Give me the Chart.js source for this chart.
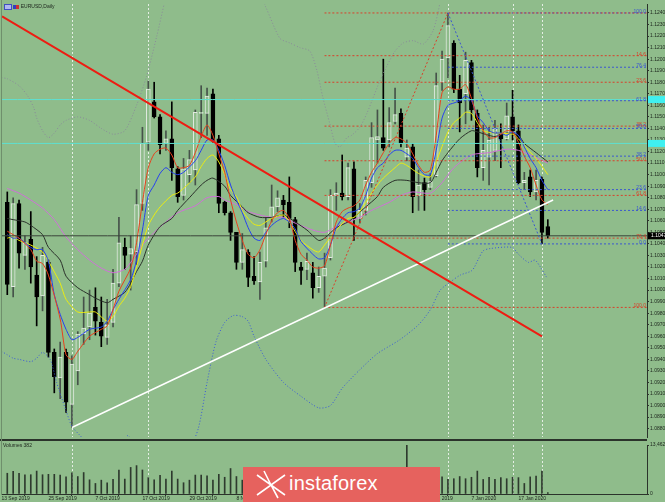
<!DOCTYPE html>
<html lang="en">
<head>
<meta charset="UTF-8" />
<title>EURUSD,Daily</title>
<script src="https://cdn.jsdelivr.net/npm/chart.js@4.4.1/dist/chart.umd.min.js"></script>
<style>
  body { margin: 0; background: #8fbc8b; }
  #wrap { position: relative; width: 665px; height: 502px; overflow: hidden; background: #8fbc8b; font-family: "Liberation Sans", Arial, sans-serif; }
  canvas { position: absolute; left: 0; }
  #priceChart { top: 0; }
  #volChart { top: 441px; }
  .txt { position: absolute; font-size: 5px; color: #1c241c; white-space: nowrap; }
  #sep { position: absolute; left: 0; top: 439px; width: 647px; height: 2px; background: #2b332b; }
  #frameL { position: absolute; left: 1px; top: 0; width: 1px; height: 495px; background: #6f8f6c; }
  #logo { position: absolute; left: 243px; top: 467px; width: 197px; height: 35px; background: #e6625e; }
  #logo .name { position: absolute; left: 46px; top: 5px; font: 20px "Liberation Sans", Arial, sans-serif; color: #fff; letter-spacing: 0.2px; }
</style>
</head>
<body>
<div id="wrap">
  <canvas id="priceChart" width="665" height="441"></canvas>
  <canvas id="volChart" width="665" height="61"></canvas>
  <div id="sep"></div>
  <div id="frameL"></div>
  <div class="txt" style="left:4px; top:3px;">
    <span style="display:inline-block;width:6px;height:4px;border:1px solid #4050c0;background:#b0b8f0;vertical-align:middle;"></span>
    <span style="display:inline-block;width:6px;height:4px;background:linear-gradient(90deg,#3040c0 50%,#d03030 50%);vertical-align:middle;"></span>
    EURUSD,Daily
  </div>
  <div class="txt" style="left:3px; top:442px;">Volumes 382</div>
  <div id="logo">
    <svg width="40" height="35" style="position:absolute;left:8px;top:0;">
      <path d="M6 8 L20 18 L34 8 M6 28 L20 18 L34 28 M13 4 L20 18 L27 31" stroke="#fff" stroke-width="1.6" fill="none"/>
    </svg>
    <div class="name">instaforex</div>
  </div>
</div>

<script>
  // ---------- data ----------
  const tickIdx = [-1, 7, 15, 23, 31, 39, 47, 55, 63, 71, 79, 87];
  const tickLabels = ['13 Sep 2019', '25 Sep 2019', '7 Oct 2019', '17 Oct 2019', '29 Oct 2019', '8 Nov 2019',
    '20 Nov 2019', '2 Dec 2019', '12 Dec 2019', '24 Dec 2019', '7 Jan 2020', '17 Jan 2020'];

  const priceTicks = [1.0880, 1.0890, 1.0900, 1.0910, 1.0920, 1.0930, 1.0940, 1.0950, 1.0960, 1.0970,
    1.0980, 1.0990, 1.1000, 1.1010, 1.1020, 1.1030, 1.1040, 1.1050, 1.1060, 1.1070,
    1.1080, 1.1090, 1.1100, 1.1110, 1.1120, 1.1130, 1.1140, 1.1150, 1.1160, 1.1170,
    1.1180, 1.1190, 1.1200, 1.1210, 1.1220, 1.1230, 1.1240];

  const opens = [1.1076, 1.1003, 1.1075, 1.1030, 1.1044, 1.1013, 1.0995, 1.1024, 1.0946, 1.0924,
    1.0946, 1.0901, 1.0930, 1.0962, 1.0968, 1.0985, 1.0972, 1.0959, 1.0972, 1.1006,
    1.1037, 1.1031, 1.1033, 1.1075, 1.1128, 1.1163, 1.1150, 1.1127, 1.1131, 1.1105,
    1.1082, 1.1100, 1.1104, 1.1153, 1.1153, 1.1170, 1.1131, 1.1076, 1.1067, 1.1050,
    1.1024, 1.1033, 1.1012, 1.1007, 1.1025, 1.1063, 1.1072, 1.1078, 1.1076, 1.1061,
    1.1020, 1.1018, 1.1015, 1.1002, 1.1012, 1.1028, 1.1082, 1.1084, 1.1081, 1.1105,
    1.1062, 1.1069, 1.1093, 1.1130, 1.1132, 1.1130, 1.1146, 1.1153, 1.1115, 1.1124,
    1.1082, 1.1093, 1.1089, 1.1099, 1.1180, 1.1201, 1.1214, 1.1174, 1.1170, 1.1197,
    1.1153, 1.1106, 1.1115, 1.1121, 1.1136, 1.1131, 1.1150, 1.1138, 1.1093, 1.1098,
    1.1085, 1.1096, 1.1055];
  const highs = [1.1085, 1.1080, 1.1078, 1.1047, 1.1068, 1.1029, 1.1037, 1.1026, 1.0949, 1.0955,
    1.0949, 1.0943, 1.0964, 1.0994, 1.1000, 1.1002, 1.0994, 1.0992, 1.1018, 1.1063,
    1.1045, 1.1047, 1.1087, 1.1141, 1.1181, 1.1180, 1.1152, 1.1138, 1.1163, 1.1107,
    1.1114, 1.1121, 1.1156, 1.1177, 1.1175, 1.1174, 1.1134, 1.1077, 1.1068, 1.1050,
    1.1049, 1.1035, 1.1029, 1.1033, 1.1063, 1.1091, 1.1086, 1.1082, 1.1098, 1.1063,
    1.1024, 1.1032, 1.1024, 1.1020, 1.1032, 1.1087, 1.1093, 1.1117, 1.1110, 1.1111,
    1.1075, 1.1098, 1.1145, 1.1156, 1.1200, 1.1158, 1.1175, 1.1157, 1.1130, 1.1127,
    1.1104, 1.1097, 1.1101, 1.1188, 1.1207, 1.1240, 1.1216, 1.1186, 1.1206, 1.1199,
    1.1156, 1.1143, 1.1141, 1.1147, 1.1144, 1.1162, 1.1173, 1.1143, 1.1102, 1.1104,
    1.1104, 1.1098, 1.1061];
  const lows = [1.0996, 1.0994, 1.1019, 1.1018, 1.1006, 1.0969, 1.0982, 1.0942, 1.0911, 1.0906,
    1.0894, 1.0881, 1.0918, 1.0953, 1.0957, 1.0961, 1.0951, 1.0953, 1.0968, 1.1003,
    1.1018, 1.1000, 1.1022, 1.1069, 1.1121, 1.1149, 1.1118, 1.1121, 1.1095, 1.1076,
    1.1078, 1.1093, 1.1091, 1.1132, 1.1134, 1.1128, 1.1067, 1.1065, 1.1043, 1.1018,
    1.1018, 1.1003, 1.1005, 1.0992, 1.1020, 1.1059, 1.1068, 1.1063, 1.1054, 1.1016,
    1.1005, 1.1009, 1.0993, 1.0998, 1.0985, 1.1026, 1.1069, 1.1078, 1.1078, 1.1043,
    1.1058, 1.1065, 1.1089, 1.1110, 1.1121, 1.1124, 1.1144, 1.1124, 1.1112, 1.1067,
    1.1069, 1.1069, 1.1087, 1.1098, 1.1173, 1.1184, 1.1171, 1.1137, 1.1144, 1.1147,
    1.1098, 1.1095, 1.1091, 1.1112, 1.1106, 1.1130, 1.1130, 1.1092, 1.1087, 1.1081,
    1.1078, 1.1040, 1.1045];
  const closes = [1.1005, 1.1075, 1.1032, 1.1041, 1.1020, 1.0994, 1.1030, 1.0946, 1.0925, 1.0942,
    1.0903, 1.0936, 1.0962, 1.0967, 1.0980, 1.0973, 1.0960, 1.0970, 1.1006, 1.1041,
    1.1030, 1.1036, 1.1074, 1.1127, 1.1174, 1.1150, 1.1126, 1.1131, 1.1106, 1.1081,
    1.1105, 1.1113, 1.1154, 1.1154, 1.1168, 1.1129, 1.1075, 1.1067, 1.1050, 1.1024,
    1.1035, 1.1011, 1.1008, 1.1024, 1.1054, 1.1072, 1.1080, 1.1074, 1.1062, 1.1024,
    1.1017, 1.1025, 1.1002, 1.1012, 1.1019, 1.1082, 1.1084, 1.1081, 1.1106, 1.1062,
    1.1069, 1.1095, 1.1132, 1.1133, 1.1123, 1.1145, 1.1152, 1.1127, 1.1123, 1.1081,
    1.1091, 1.1087, 1.1094, 1.1177, 1.1200, 1.1229, 1.1174, 1.1162, 1.1199, 1.1156,
    1.1106, 1.1121, 1.1130, 1.1140, 1.1131, 1.1151, 1.1138, 1.1093, 1.1095, 1.1085,
    1.1095, 1.1050, 1.1047];

  const volumes = [5700, 6200, 5700, 5300, 5300, 6300, 5300, 5400, 5400, 5200,
    4700, 5800, 4800, 5900, 3900, 2900, 3800, 3100, 4000, 6600,
    4100, 7300, 7800, 6600, 4500, 3900, 5100, 4100, 6300, 4100,
    3100, 3800, 5200, 5200, 5000, 3800, 5400, 4600, 7000, 4800,
    3800, 4500, 4200, 4800, 5000, 4400, 3800, 4300, 5200, 4600,
    4000, 4300, 4500, 3900, 4100, 6000, 4400, 4900, 4200, 5500,
    4300, 4400, 5600, 6200, 5800, 5200, 4600, 4300, 13462, 4400,
    3500, 2200, 2800, 4600, 4700, 4000, 4200, 4800, 4200, 4600,
    6300, 4000, 4600, 4000, 4500, 4200, 4600, 4500, 2900, 4700,
    4900, 6300, 382];
  const volMax = 13462;

  // moving averages: [bar index, price]
  const maRed = [[0, 1.1051], [1, 1.1048], [2, 1.1045], [4, 1.1035], [5, 1.1025], [6, 1.1023], [7, 1.1013], [9, 1.0975],
    [10, 1.0944], [11, 1.0940], [12, 1.0947], [14, 1.0960], [16, 1.0966], [17, 1.0969], [18, 1.0983], [19, 1.0999],
    [21, 1.1019], [22, 1.1041], [23, 1.1076], [24, 1.1106], [25, 1.1118], [26, 1.1122], [27, 1.1123], [28, 1.1117],
    [29, 1.1106], [30, 1.1106], [31, 1.1108], [32, 1.1119], [33, 1.1133], [34, 1.1143], [35, 1.1134], [36, 1.1118],
    [37, 1.1102], [38, 1.1078], [39, 1.1059], [40, 1.1043], [41, 1.1031], [42, 1.1028], [43, 1.1035], [44, 1.1048],
    [45, 1.1060], [46, 1.1067], [47, 1.1069], [48, 1.1062], [49, 1.1043], [50, 1.1031], [51, 1.1026], [52, 1.1020],
    [53, 1.1019], [54, 1.1021], [55, 1.1039], [56, 1.1059], [57, 1.1068], [58, 1.1071], [59, 1.1073], [60, 1.1078],
    [61, 1.1091], [62, 1.1102], [63, 1.1110], [64, 1.1119], [65, 1.1127], [66, 1.1132], [67, 1.1131], [68, 1.1127],
    [69, 1.1118], [70, 1.1108], [71, 1.1102], [72, 1.1104], [73, 1.1134], [74, 1.1171], [75, 1.1176], [76, 1.1174],
    [77, 1.1174], [78, 1.1178], [79, 1.1166], [80, 1.1149], [81, 1.1138], [82, 1.1132], [83, 1.1132], [84, 1.1135],
    [85, 1.1138], [86, 1.1137], [87, 1.1128], [88, 1.1116], [89, 1.1106], [90, 1.1091], [91, 1.1078], [92, 1.1074]];
  const maBlue = [[0, 1.1048], [1, 1.1045], [2, 1.1045], [4, 1.1037], [5, 1.1035], [6, 1.1035], [7, 1.1025], [8, 1.0996],
    [9, 1.0979], [10, 1.0966], [11, 1.0957], [12, 1.0959], [14, 1.0966], [16, 1.0968], [17, 1.0973], [18, 1.0983],
    [19, 1.0992], [21, 1.1009], [22, 1.1026], [23, 1.1052], [24, 1.1082], [25, 1.1091], [26, 1.1101], [27, 1.1106],
    [28, 1.1102], [29, 1.1100], [30, 1.1102], [32, 1.1112], [33, 1.1121], [34, 1.1130], [35, 1.1130], [36, 1.1121],
    [37, 1.1108], [38, 1.1091], [39, 1.1078], [40, 1.1067], [41, 1.1054], [42, 1.1045], [43, 1.1043], [44, 1.1050],
    [45, 1.1056], [46, 1.1060], [47, 1.1062], [48, 1.1059], [49, 1.1053], [50, 1.1042], [52, 1.1031], [53, 1.1027],
    [54, 1.1028], [55, 1.1039], [56, 1.1054], [57, 1.1062], [58, 1.1067], [59, 1.1068], [60, 1.1071], [61, 1.1082],
    [62, 1.1097], [63, 1.1106], [64, 1.1110], [65, 1.1117], [66, 1.1121], [67, 1.1121], [68, 1.1118], [69, 1.1114],
    [70, 1.1106], [71, 1.1100], [72, 1.1100], [73, 1.1121], [74, 1.1149], [75, 1.1160], [76, 1.1162], [77, 1.1164],
    [78, 1.1168], [79, 1.1164], [80, 1.1151], [81, 1.1145], [82, 1.1138], [83, 1.1136], [84, 1.1136], [85, 1.1134],
    [86, 1.1137], [87, 1.1134], [88, 1.1124], [89, 1.1114], [90, 1.1106], [91, 1.1095], [92, 1.1087]];
  const maYellow = [[0, 1.1045], [1, 1.1046], [2, 1.1043], [4, 1.1039], [6, 1.1033], [7, 1.1025], [9, 1.1006], [10, 1.0992],
    [12, 1.0981], [14, 1.0981], [15, 1.0981], [17, 1.0973], [18, 1.0977], [19, 1.0986], [20, 1.0993], [21, 1.1003],
    [22, 1.1020], [23, 1.1039], [24, 1.1056], [25, 1.1065], [26, 1.1072], [28, 1.1082], [29, 1.1084], [30, 1.1088],
    [32, 1.1098], [33, 1.1107], [34, 1.1114], [35, 1.1117], [36, 1.1111], [37, 1.1100], [38, 1.1087], [39, 1.1081],
    [40, 1.1069], [41, 1.1062], [42, 1.1057], [43, 1.1056], [44, 1.1059], [45, 1.1062], [47, 1.1065], [48, 1.1059],
    [50, 1.1043], [52, 1.1035], [53, 1.1033], [54, 1.1039], [56, 1.1052], [58, 1.1062], [59, 1.1063], [60, 1.1068],
    [62, 1.1084], [63, 1.1091], [64, 1.1097], [66, 1.1106], [67, 1.1110], [68, 1.1108], [70, 1.1101], [72, 1.1098],
    [73, 1.1111], [75, 1.1137], [76, 1.1145], [77, 1.1149], [78, 1.1154], [79, 1.1153], [80, 1.1145], [81, 1.1138],
    [83, 1.1136], [86, 1.1135], [87, 1.1131], [88, 1.1125], [90, 1.1114], [92, 1.1100]];
  const maBlack = [[0, 1.1062], [1, 1.1061], [3, 1.1059], [4, 1.1056], [6, 1.1048], [7, 1.1037], [9, 1.1026], [10, 1.1012],
    [12, 1.1002], [14, 1.0996], [15, 1.0993], [17, 1.0989], [18, 1.0992], [20, 1.0998], [21, 1.1006], [22, 1.1016],
    [23, 1.1025], [24, 1.1039], [26, 1.1055], [28, 1.1062], [29, 1.1069], [31, 1.1080], [33, 1.1091], [34, 1.1095],
    [35, 1.1097], [37, 1.1090], [38, 1.1082], [40, 1.1072], [41, 1.1067], [43, 1.1063], [45, 1.1063], [47, 1.1065],
    [49, 1.1059], [51, 1.1052], [53, 1.1043], [54, 1.1045], [56, 1.1054], [58, 1.1059], [59, 1.1063], [61, 1.1072],
    [63, 1.1081], [64, 1.1089], [66, 1.1095], [68, 1.1095], [70, 1.1093], [72, 1.1093], [73, 1.1102], [74, 1.1112],
    [75, 1.1119], [77, 1.1131], [79, 1.1138], [80, 1.1137], [82, 1.1134], [83, 1.1133], [85, 1.1136], [87, 1.1134],
    [88, 1.1127], [90, 1.1119], [92, 1.1111]];
  const maPink = [[0, 1.1088], [2, 1.1084], [4, 1.1078], [6, 1.1071], [8, 1.1061], [10, 1.1046], [12, 1.1035], [14, 1.1026],
    [16, 1.1019], [18, 1.1015], [20, 1.1018], [21, 1.1024], [22, 1.1031], [23, 1.1039], [25, 1.1050], [27, 1.1059],
    [29, 1.1067], [32, 1.1073], [34, 1.1080], [36, 1.1081], [37, 1.1078], [39, 1.1074], [41, 1.1068], [43, 1.1065],
    [45, 1.1063], [47, 1.1063], [49, 1.1058], [52, 1.1052], [54, 1.1050], [56, 1.1055], [58, 1.1059], [60, 1.1063],
    [62, 1.1069], [65, 1.1076], [67, 1.1082], [69, 1.1085], [72, 1.1084], [74, 1.1093], [76, 1.1106], [79, 1.1117],
    [82, 1.1119], [85, 1.1122], [87, 1.1121], [89, 1.1117], [92, 1.1110]];

  // bollinger envelope (upper runs off the top of the window twice)
  const bbUpper = [[-1, 1.1184], [0, 1.1183], [2, 1.1177], [3.5, 1.1168], [4.5, 1.1158], [5, 1.1149], [6, 1.1138],
    [7, 1.1132], [8, 1.1136], [9, 1.1143], [10, 1.1147], [12, 1.1150], [14, 1.1147], [16, 1.1140], [18, 1.1135],
    [20, 1.1138], [22, 1.1160], [23.7, 1.1185], [25.4, 1.1219], [26.8, 1.1250], [27.5, 1.1265], [42, 1.1265],
    [44, 1.1245], [46.4, 1.1218], [48.1, 1.1214], [49.8, 1.1210], [51.5, 1.1207], [52.7, 1.1190], [53.7, 1.1167],
    [54.9, 1.1144], [55.8, 1.1127], [56.6, 1.1124], [57.8, 1.1132], [58.6, 1.1134], [60, 1.1141], [61.2, 1.1153],
    [62.3, 1.1167], [63.4, 1.1181], [64.6, 1.1194], [66, 1.1207], [67.4, 1.1214], [69.1, 1.1216], [70.8, 1.1213],
    [72.5, 1.1225], [73.7, 1.1250], [74.5, 1.1270]];
  const bbLower = [[-1, 1.0947], [0, 1.0944], [1, 1.0941], [2, 1.0940], [4, 1.0938], [5, 1.0941], [6, 1.0946],
    [7.3, 1.0940], [8.4, 1.0920], [9.3, 1.0906], [10.1, 1.0894], [11, 1.0882], [12.4, 1.0874], [14, 1.0866],
    [19, 1.0866], [20.5, 1.0874], [22, 1.0866], [31, 1.0866], [32.5, 1.0880], [34, 1.0920], [35.5, 1.0955],
    [37, 1.0972], [38.5, 1.0978], [40, 1.0977], [41, 1.0973], [42, 1.0960], [44, 1.0940], [47, 1.0920],
    [50, 1.0908], [53, 1.0898], [55, 1.0900], [57, 1.0915], [60, 1.0931], [63, 1.0945], [66.8, 1.0957],
    [70, 1.0970], [72, 1.0983], [73.7, 1.1000], [75.4, 1.1007], [77.1, 1.1013], [79.1, 1.1017], [80.2, 1.1027],
    [81, 1.1034], [82.2, 1.1036], [85.9, 1.1037], [87, 1.1031], [88.7, 1.1024], [89.8, 1.1026], [90.6, 1.1021],
    [91.8, 1.1011]];

  // drawn objects
  const redTrend = [[-0.9, 1.1237], [91, 1.0960]];
  const whiteTrend = [[11, 1.0881], [92.9, 1.1078]];
  const cyanLevels = [1.1165, 1.1127];
  const bidPrice = 1.1047;
  const vLines = [11, 24, 75, 86, 91];

  // fibonacci grids: [label, price]
  const fibRedStart = 54, fibRedHigh = 1.1240, fibRedLow = 1.0985;
  const fibRed = [['14.6', 1.1203], ['23.6', 1.1180], ['38.2', 1.1142], ['50.0', 1.1112],
    ['61.8', 1.1082], ['76.4', 1.1045], ['100.0', 1.0985]];
  const fibBlueStart = 75, fibBlueEnd = 91, fibBlueLow = 1.1040;
  const fibBlue = [['100.0', 1.1240], ['76.4', 1.1193], ['61.8', 1.1164], ['50.0', 1.1140],
    ['38.2', 1.1116], ['23.6', 1.1087], ['14.6', 1.1069], ['0.0', 1.1040]];

  // ---------- chart ----------
  const X_MIN = -0.9, X_MAX = 108.88;
  const P_MAX = 1.124776, P_MIN = 1.087276;
  const BG = '#8fbc8b';
  const AXIS = '#2b332b';
  const FONT = { size: 5, family: 'Liberation Sans' };

  const pts = arr => arr.map(p => ({ x: p[0], y: p[1] }));
  const bull = opens.map((o, i) => closes[i] >= o);

  function lineSet(data, color, width, dash, order) {
    return {
      type: 'line', data: pts(data), borderColor: color, borderWidth: width,
      borderDash: dash || [], pointRadius: 0, tension: 0.25, fill: false, order: order
    };
  }

  const datasets = [];
  // trend and drawing objects on top
  datasets.push(lineSet(redTrend, '#ee1c12', 2, null, 0));
  datasets.push(lineSet(whiteTrend, '#ffffff', 1.5, null, 0));
  datasets.push(lineSet([[fibRedStart, fibRedLow], [fibBlueStart, fibRedHigh]], '#d8402a', 1, [2, 2], 0));
  datasets.push(lineSet([[fibBlueStart, fibRedHigh], [fibBlueEnd, fibBlueLow]], '#3a56d0', 1, [2, 2], 0));
  fibRed.forEach(f => datasets.push(lineSet([[fibRedStart, f[1]], [X_MAX, f[1]]], '#d8402a', 1, [2, 2], 0)));
  datasets.push(lineSet([[fibRedStart, fibRedHigh], [X_MAX, fibRedHigh]], '#d8402a', 1, [2, 2], 0));
  fibBlue.forEach(f => datasets.push(lineSet([[fibBlueStart, f[1]], [X_MAX, f[1]]], '#3a56d0', 1, [2, 2], 0)));
  cyanLevels.forEach(v => datasets.push(lineSet([[X_MIN, v], [X_MAX, v]], '#5fe0d0', 1, null, 0)));
  datasets.push(lineSet([[X_MIN, bidPrice], [X_MAX, bidPrice]], '#3a443a', 1, null, 0));
  // indicators
  datasets.push(lineSet(maRed, '#e8401c', 1, null, 1));
  datasets.push(lineSet(maBlue, '#2540f0', 1, null, 1));
  datasets.push(lineSet(maYellow, '#ecec10', 1, null, 1));
  datasets.push(lineSet(maBlack, '#2a302a', 1, null, 1));
  datasets.push(lineSet(maPink, '#d070d8', 1, null, 1));
  datasets.push(lineSet(bbUpper, '#8a8a9a', 1, [1, 2], 1));
  datasets.push(lineSet(bbLower, '#3a5ad8', 1, [1, 2], 1));
  // candles
  datasets.push({
    type: 'bar', order: 3, grouped: false, barThickness: 4, borderWidth: 1, borderSkipped: false,
    data: opens.map((o, i) => ({ x: i, y: [Math.min(o, closes[i]), Math.max(o, closes[i])] })),
    backgroundColor: bull.map(b => b ? BG : '#000000'),
    borderColor: bull.map(b => b ? '#e2eae2' : '#000000')
  });
  datasets.push({
    type: 'bar', order: 4, grouped: false, barThickness: 1,
    data: highs.map((h, i) => ({ x: i, y: [lows[i], h] })),
    backgroundColor: bull.map(b => b ? '#46524a' : '#000000')
  });

  const vlinePlugin = {
    id: 'vlines',
    beforeDatasetsDraw(chart) {
      const { ctx, chartArea, scales } = chart;
      ctx.save();
      ctx.strokeStyle = '#e4eee4';
      ctx.lineWidth = 1;
      ctx.setLineDash([2, 2]);
      vLines.forEach(i => {
        const x = Math.round(scales.x.getPixelForValue(i)) + 0.5;
        ctx.beginPath();
        ctx.moveTo(x, chartArea.top);
        ctx.lineTo(x, chartArea.bottom);
        ctx.stroke();
      });
      ctx.restore();
    }
  };

  const labelPlugin = {
    id: 'labels',
    afterDatasetsDraw(chart) {
      const { ctx, chartArea, scales } = chart;
      ctx.save();
      ctx.font = '5px "Liberation Sans"';
      ctx.textAlign = 'right';
      ctx.textBaseline = 'bottom';
      const xr = chartArea.right - 1;
      ctx.fillStyle = '#d8402a';
      fibRed.forEach(f => ctx.fillText(f[0], xr, scales.y.getPixelForValue(f[1]) + 1));
      ctx.fillStyle = '#3a56d0';
      fibBlue.forEach(f => ctx.fillText(f[0], xr, scales.y.getPixelForValue(f[1]) + 1));
      ctx.restore();
    },
    afterDraw(chart) {
      const { ctx, chartArea, scales } = chart;
      ctx.save();
      const x0 = chartArea.right + 1;
      cyanLevels.forEach(v => {
        const y = scales.y.getPixelForValue(v);
        ctx.fillStyle = '#40f0f0';
        ctx.fillRect(x0, y - 3.5, 665 - x0, 7);
      });
      const yb = scales.y.getPixelForValue(bidPrice);
      ctx.fillStyle = '#000000';
      ctx.fillRect(x0, yb - 3.5, 665 - x0, 7);
      ctx.fillStyle = '#ffffff';
      ctx.font = '5px "Liberation Sans"';
      ctx.textBaseline = 'middle';
      ctx.fillText(bidPrice.toFixed(4), x0 + 3, yb);
      ctx.restore();
    }
  };

  new Chart(document.getElementById('priceChart'), {
    type: 'bar',
    data: { datasets: datasets },
    options: {
      responsive: false,
      animation: false,
      events: [],
      layout: { padding: { left: 2, top: 3, bottom: 3, right: 0 } },
      plugins: { legend: { display: false }, tooltip: { enabled: false } },
      scales: {
        x: { type: 'linear', min: X_MIN, max: X_MAX, offset: false, display: false },
        y: {
          type: 'linear', position: 'right', min: P_MIN, max: P_MAX,
          afterBuildTicks: s => { s.ticks = priceTicks.map(v => ({ value: v })); },
          afterFit: s => { s.width = 18; },
          grid: { drawOnChartArea: false, tickLength: 2, color: AXIS },
          border: { display: true, color: AXIS },
          ticks: { autoSkip: false, font: FONT, color: '#1c241c', padding: 1, callback: v => v.toFixed(4) }
        }
      }
    },
    plugins: [vlinePlugin, labelPlugin]
  });

  new Chart(document.getElementById('volChart'), {
    type: 'bar',
    data: {
      datasets: [{
        data: volumes.map((v, i) => ({ x: i, y: v })),
        backgroundColor: '#2e3a2e', barThickness: 1, grouped: false
      }]
    },
    options: {
      responsive: false,
      animation: false,
      events: [],
      layout: { padding: { left: 2, top: 2, bottom: 0, right: 0 } },
      plugins: { legend: { display: false }, tooltip: { enabled: false } },
      scales: {
        x: {
          type: 'linear', min: X_MIN, max: X_MAX, offset: false, position: 'bottom',
          afterBuildTicks: s => { s.ticks = tickIdx.map(v => ({ value: v })); },
          afterFit: s => { s.height = 8; },
          grid: { drawOnChartArea: false, tickLength: 2, color: AXIS },
          border: { display: true, color: AXIS },
          ticks: { autoSkip: false, maxRotation: 0, align: 'start', padding: 0, font: FONT, color: '#1c241c',
            callback: (v, i) => tickLabels[i] }
        },
        y: {
          type: 'linear', position: 'right', min: 0, max: volMax,
          afterBuildTicks: s => { s.ticks = [{ value: 0 }, { value: volMax }]; },
          afterFit: s => { s.width = 18; },
          grid: { drawOnChartArea: false, tickLength: 2, color: AXIS },
          border: { display: true, color: AXIS },
          ticks: { autoSkip: false, font: FONT, color: '#1c241c', padding: 1 }
        }
      }
    },
    plugins: [vlinePlugin]
  });
</script>
</body>
</html>
